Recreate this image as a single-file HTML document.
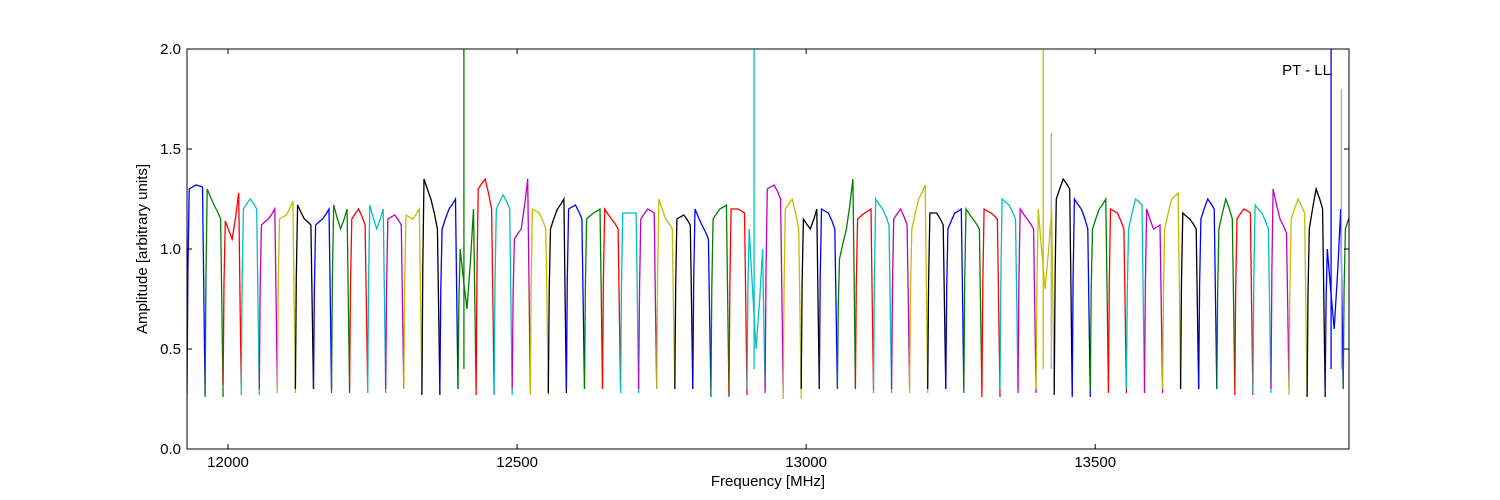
<!DOCTYPE html>
<html><head><meta charset="utf-8">
<style>
body{margin:0;background:#fff;}
svg{display:block;font-family:"Liberation Sans",sans-serif;}
</style></head>
<body>
<svg id="chart" width="1500" height="500" viewBox="0 0 1500 500" xmlns="http://www.w3.org/2000/svg">
<rect x="0" y="0" width="1500" height="500" fill="#fff"/>
<g id="plot"></g>
<rect x="187" y="49" width="1162" height="400" fill="none" stroke="#000" stroke-width="1"/>
<g id="axes"></g>
<text x="768" y="486" font-size="15" text-anchor="middle">Frequency [MHz]</text>
<text transform="translate(147,249) rotate(-90)" font-size="15" text-anchor="middle">Amplitude [arbitrary units]</text>
<text x="1331" y="75" font-size="15" text-anchor="end">PT - LL</text>
</svg>
<script>
const xTicks = [12000, 12500, 13000, 13500];
const yTicks = [0.0, 0.5, 1.0, 1.5, 2.0];
const colors = ['#0000ff','#008000','#ff0000','#00bfbf','#bf00bf','#bfbf00','#000000'];
const windowStartFreq = 11929;
const windowWidth = 31.25;
const levelsA = [1.3,1.3,1.14,1.2,1.12,1.15,1.22,1.12,1.22,1.15,1.22,1.15,1.17,1.35,1.1,1.0,1.3,1.2,1.05,1.2,1.1,1.2,1.15,1.2,1.18,1.15,1.25,1.15,1.2,1.15,1.2,1.1,1.3,1.2,1.15,1.2,0.95,1.15,1.25,1.15,1.1,1.18,1.1,1.2,1.2,1.25,1.2,1.2,1.25,1.25,1.1,1.2,1.1,1.2,1.1,1.18,1.15,1.1,1.15,1.22,1.3,1.15,1.1,1.0,1.1];
const levelsB = [1.32,1.22,1.05,1.25,1.15,1.17,1.15,1.15,1.1,1.2,1.1,1.17,1.15,1.25,1.2,0.7,1.35,1.27,1.1,1.18,1.2,1.22,1.18,1.15,1.18,1.2,1.15,1.17,1.12,1.2,1.2,0.5,1.32,1.25,1.1,1.18,1.1,1.18,1.2,1.2,1.25,1.18,1.18,1.15,1.18,1.22,1.15,0.8,1.35,1.2,1.2,1.18,1.25,1.1,1.25,1.15,1.25,1.25,1.2,1.18,1.15,1.25,1.3,0.6,1.2];
const levelsC = [1.31,1.15,1.28,1.2,1.2,1.24,1.12,1.2,1.2,1.12,1.2,1.12,1.2,1.1,1.25,1.2,1.2,1.2,1.35,1.1,1.25,1.15,1.2,1.1,1.18,1.18,1.1,1.12,1.05,1.22,1.18,1.0,1.25,1.1,1.2,1.1,1.35,1.2,1.12,1.12,1.32,1.12,1.2,1.1,1.15,1.15,1.1,1.2,1.3,1.1,1.25,1.1,1.22,1.12,1.28,1.1,1.2,1.15,1.18,1.1,1.08,1.18,1.2,1.2,1.3];
const edgeLow = [0.27,0.26,0.32,0.27,0.3,0.28,0.3,0.3,0.28,0.3,0.28,0.3,0.3,0.27,0.3,0.3,0.27,0.27,0.3,0.27,0.28,0.3,0.3,0.3,0.28,0.3,0.3,0.3,0.3,0.26,0.27,0.3,0.28,0.25,0.3,0.3,0.3,0.3,0.28,0.3,0.28,0.3,0.3,0.28,0.26,0.3,0.28,0.3,0.27,0.26,0.3,0.28,0.3,0.28,0.3,0.3,0.3,0.3,0.27,0.28,0.3,0.27,0.26,0.3,0.3];
const spikeFreqs = [12408, 12910, 13410, 13908, 13424, 13926];
const spikeValues = [2.0, 2.0, 2.0, 2.0, 1.58, 1.8];
const spikeColors = ['#008000','#00bfbf','#bfbf00','#0000ff','#aaaaaa','#aaaaaa'];

const X0=187, X1=1349, Y0=449, Y1=49, FMIN=11929, FMAX=13939, VMAX=2.0;
const xs = f => X0 + (f-FMIN)/(FMAX-FMIN)*(X1-X0);
const ys = v => Y0 - v/VMAX*(Y0-Y1);
const NS='http://www.w3.org/2000/svg';
const plot=document.getElementById('plot');
const axes=document.getElementById('axes');

const clip=document.createElementNS(NS,'clipPath');clip.id='c';
const cr=document.createElementNS(NS,'rect');
cr.setAttribute('x',X0);cr.setAttribute('y',Y1);cr.setAttribute('width',X1-X0);cr.setAttribute('height',Y0-Y1);
clip.appendChild(cr);document.getElementById('chart').appendChild(clip);
plot.setAttribute('clip-path','url(#c)');

for(let k=0;k<levelsA.length;k++){
  const s=windowStartFreq+k*windowWidth, w=windowWidth;
  const lo=edgeLow[k], a=levelsA[k], b=levelsB[k], c=levelsC[k];
  const pts=[[0,lo],[0.05,(lo+a)/2+0.1],[0.12,a],[0.3,(a+b)/2],[0.5,b],[0.7,(b+c)/2],[0.86,c],[0.93,(c+lo)/2],[1,lo]];
  const d=pts.map((p,i)=>(i?'L':'M')+xs(s+p[0]*w).toFixed(1)+','+ys(p[1]).toFixed(1)).join(' ');
  const path=document.createElementNS(NS,'path');
  path.setAttribute('d',d);path.setAttribute('fill','none');
  path.setAttribute('stroke',colors[k%7]);path.setAttribute('stroke-width','1.3');
  
  
  plot.appendChild(path);
}
for(let i=0;i<spikeFreqs.length;i++){
  const l=document.createElementNS(NS,'line');
  l.setAttribute('x1',xs(spikeFreqs[i]));l.setAttribute('x2',xs(spikeFreqs[i]));
  l.setAttribute('y1',ys(0.4));l.setAttribute('y2',ys(spikeValues[i]));
  l.setAttribute('stroke',spikeColors[i]);l.setAttribute('stroke-width','1.3');
  
  
  plot.appendChild(l);
}
xTicks.forEach(t=>{
  const x=xs(t);
  [[Y0,Y0-5],[Y1,Y1+5]].forEach(([a,b])=>{
    const l=document.createElementNS(NS,'line');
    l.setAttribute('x1',x);l.setAttribute('x2',x);l.setAttribute('y1',a);l.setAttribute('y2',b);l.setAttribute('stroke','#000');
    
    
    axes.appendChild(l);
  });
  const tx=document.createElementNS(NS,'text');
  tx.setAttribute('x',x);tx.setAttribute('y',467);tx.setAttribute('font-size','15');tx.setAttribute('text-anchor','middle');
  tx.textContent=t;
  
  
  axes.appendChild(tx);
});
yTicks.forEach(t=>{
  const y=ys(t);
  [[X0,X0+5],[X1,X1-5]].forEach(([a,b])=>{
    const l=document.createElementNS(NS,'line');
    l.setAttribute('x1',a);l.setAttribute('x2',b);l.setAttribute('y1',y);l.setAttribute('y2',y);l.setAttribute('stroke','#000');
    
    
    axes.appendChild(l);
  });
  const tx=document.createElementNS(NS,'text');
  tx.setAttribute('x',181);tx.setAttribute('y',y+5);tx.setAttribute('font-size','15');tx.setAttribute('text-anchor','end');
  tx.textContent=t.toFixed(1);
  
  
  axes.appendChild(tx);
});
</script>
</body></html>
